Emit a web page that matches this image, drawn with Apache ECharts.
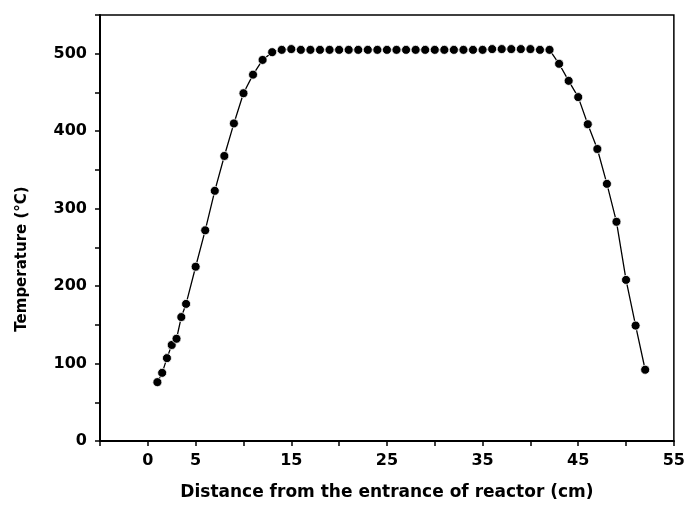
<!DOCTYPE html>
<html>
<head>
<meta charset="utf-8">
<script src="https://cdn.jsdelivr.net/npm/echarts@6/dist/echarts.min.js"></script>
<style>
  html, body { margin: 0; padding: 0; background: #fff; }
  #main { width: 688px; height: 506px; }
</style>
</head>
<body>
<div id="main"></div>
<script>
// distance from reactor entrance (cm)
var distance = [1, 1.5, 2, 2.5, 3, 3.5, 4, 5, 6, 7, 8, 9, 10, 11, 12, 13,
  14, 15, 16, 17, 18, 19, 20, 21, 22, 23, 24, 25, 26, 27, 28, 29, 30,
  31, 32, 33, 34, 35, 36, 37, 38, 39, 40, 41, 42,
  43, 44, 45, 46, 47, 48, 49, 50, 51, 52];
// temperature (°C)
var temperature = [76, 88, 107, 124, 132, 160, 177, 225, 272, 323, 368, 410, 449, 473, 492, 502,
  505, 506, 505, 505, 505, 505, 505, 505, 505, 505, 505, 505, 505, 505, 505, 505, 505,
  505, 505, 505, 505, 505, 506, 506, 506, 506, 506, 505, 505,
  487, 465, 444, 409, 377, 332, 283, 208, 149, 92];
var xLabels = [0, 5, 15, 25, 35, 45, 55];

var font = "'DejaVu Sans', sans-serif";

var option = {
  animation: false,
  grid: {
    left: 100,
    right: 13,
    top: 15,
    bottom: 64,
    show: true,
    borderColor: "#000",
    borderWidth: 1.5,
  },
  xAxis: {
    type: "value",
    min: -5,
    max: 55,
    interval: 5,
    name: "Distance from the entrance of reactor (cm)",
    nameLocation: "middle",
    nameGap: 43,
    nameTextStyle: { fontFamily: font, fontWeight: "bold", fontSize: 17, color: "#000" },
    axisLine: { onZero: false, lineStyle: { color: "#000", width: 2 } },
    axisTick: { length: 5, lineStyle: { color: "#000", width: 1.5 } },
    splitLine: { show: false },
    axisLabel: {
      margin: 12,
      fontFamily: font,
      fontWeight: "bold",
      fontSize: 16,
      color: "#000",
      formatter: function (v) {
        return xLabels.indexOf(v) >= 0 ? String(v) : "";
      },
    },
  },
  yAxis: {
    type: "value",
    min: 0,
    max: 550,
    interval: 50,
    name: "Temperature (°C)",
    nameLocation: "middle",
    nameGap: 70,
    nameTextStyle: {
      fontFamily: font, fontWeight: "bold", fontSize: 15, color: "#000",
      // label sits a bit below the axis centre in the original
      padding: [0, 62, 0, 0],
    },
    axisLine: { show: true, onZero: false, lineStyle: { color: "#000", width: 2 } },
    axisTick: { length: 5, lineStyle: { color: "#000", width: 1.5 } },
    splitLine: { show: false },
    axisLabel: {
      margin: 13,
      fontFamily: font,
      fontWeight: "bold",
      fontSize: 16,
      color: "#000",
      formatter: function (v) {
        return v % 100 === 0 ? String(v) : "";
      },
    },
  },
  series: [
    {
      type: "line",
      data: distance.map(function (d, i) { return [d, temperature[i]]; }),
      symbol: "circle",
      symbolSize: 9,
      itemStyle: { color: "#000", borderColor: "#fff", borderWidth: 0.8 },
      lineStyle: { color: "#000", width: 1.3 },
    },
  ],
};

var myChart = echarts.init(document.getElementById("main"));
myChart.setOption(option);
</script>
</body>
</html>
